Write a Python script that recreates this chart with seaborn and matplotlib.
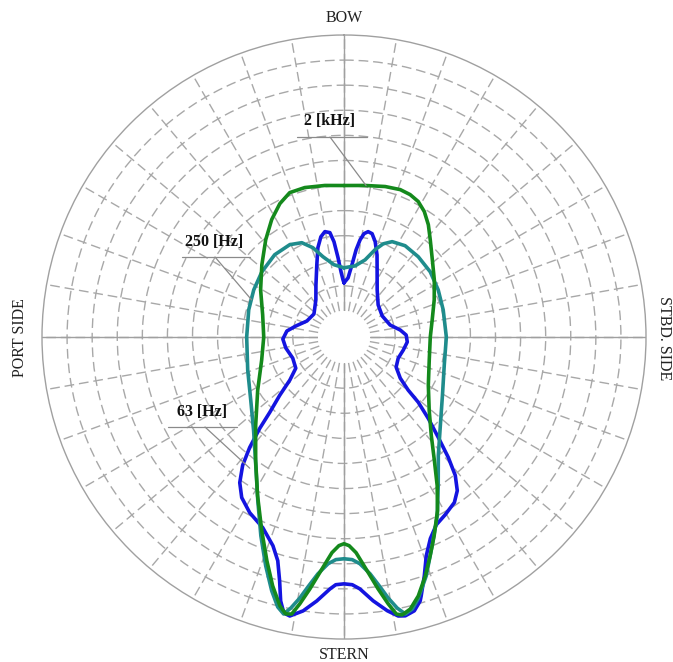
import numpy as np
import pandas as pd
import matplotlib
matplotlib.use("Agg")
import matplotlib.pyplot as plt
from matplotlib.lines import Line2D
import seaborn as sns

# Directivity of the radiated noise, one closed curve per frequency band.
# Angles in degrees, clockwise from the bow; radius on the level scale (0..110).
band_names = ["2 [kHz]", "250 [Hz]", "63 [Hz]"]

angle_2k = [0, 7.9, 15.3, 20.9, 24.9, 28.7, 32.6, 36.9, 41.6, 48.8, 57.7, 67.6, 79.1, 90,
            105.1, 119.7, 130.7, 138.4, 143.8, 147.9, 151.7, 155.6, 158.5, 161.2, 164.0,
            166.3, 168.2, 169.3, 170.6, 172.3, 174.6, 176.8, 178.6, 180,
            181.4, 183.2, 185.4, 187.7, 189.4, 190.7, 191.9, 193.4, 196.0, 199.0, 203.0,
            208.6, 215.6, 225.0, 238.4, 254.3, 270, 285.2, 299.5, 311.3, 321.2, 328.4,
            334.3, 339.4, 345.3, 352.8, 360]
level_2k = [50.0, 50.6, 51.8, 52.5, 52.2, 51.2, 49.0, 45.6, 41.4, 36.4, 32.2, 28.5, 25.4, 24.0,
            24.8, 28.3, 34.4, 42.0, 50.6, 59.5, 68.2, 76.6, 83.3, 90.2, 97.0,
            101.2, 102.8, 102.0, 97.4, 90.9, 82.4, 75.7, 72.8, 72.0,
            72.8, 75.7, 82.4, 90.9, 97.4, 102.0, 102.4, 99.8, 92.8, 84.0, 73.5,
            61.6, 50.1, 39.4, 30.0, 23.7, 21.6, 23.2, 27.8, 33.2, 39.4, 44.6,
            48.6, 51.1, 51.2, 50.5, 50.0]

angle_250 = [0, 8.8, 15.3, 19.6, 22.8, 26.8, 33.8, 42.8, 52.9, 63.4, 74.7, 90, 105.6,
             120.6, 132.5, 141.5, 147.6, 152.4, 157.1, 161.0, 164.2, 165.9, 167.5, 168.9,
             170.4, 171.8, 173.7, 176.0, 177.9, 180,
             182.1, 184.0, 186.3, 188.2, 189.6, 191.1, 192.3, 193.8, 195.9, 198.9, 202.7,
             207.8, 214.5, 224.1, 235.9, 251.0, 270, 285.9, 297.6, 308.4, 319.9, 329.6,
             335.9, 340.8, 345.3, 352.1, 360]
level_250 = [17.2, 18.3, 21.5, 26.6, 29.9, 32.2, 33.4, 33.2, 32.7, 31.6, 30.6, 30.4, 31.1,
             35.2, 41.7, 50.0, 59.7, 69.9, 79.9, 90.3, 98.1, 101.4, 102.7, 99.7,
             95.1, 90.2, 84.6, 80.2, 78.4, 78.0,
             78.4, 80.2, 84.6, 90.2, 95.1, 99.7, 102.6, 100.4, 94.8, 86.0, 75.5,
             63.3, 51.7, 41.4, 34.5, 30.2, 28.4, 29.1, 30.2, 31.4, 32.5, 32.3,
             30.8, 27.3, 22.7, 18.7, 17.2]

angle_63 = [0, 3.9, 6.3, 7.9, 9.4, 11.0, 12.9, 15.2, 18.1, 21.9, 26.2, 35.1, 46.7, 61.1,
            75.4, 82.9, 88.2, 94.5, 102.4, 111.3, 120.0, 126.2, 129.6, 131.3, 134.0,
            136.8, 139.1, 141.2, 143.6, 146.3, 150.3, 153.8, 156.8, 159.4, 161.4, 163.4,
            163.9, 165.6, 167.6, 169.0, 171.0, 173.7, 176.4, 178.1, 180,
            181.9, 183.2, 185.9, 188.5, 191.0, 192.3, 193.5, 194.8, 196.5, 198.8, 203.1,
            208.2, 212.5, 215.6, 218.3, 220.5, 222.7, 224.6, 227.8, 231.5, 237.1, 247.6,
            259.3, 268.1, 276.0, 282.9, 293.4, 307.5, 322.9, 331.7, 339.4, 343.7, 347.0,
            349.7, 352.3, 354.0, 355.7, 357.4, 359.0, 360]
level_63 = [11.2, 13.2, 18.6, 24.7, 28.9, 31.6, 32.7, 32.3, 29.6, 24.9, 19.5, 12.6, 8.3, 7.0,
            8.6, 12.2, 14.4, 14.9, 13.8, 12.8, 13.6, 17.4, 22.8, 29.0, 36.3,
            44.5, 53.1, 60.4, 65.7, 68.9, 71.1, 73.0, 77.0, 82.8, 90.0, 97.3,
            99.1, 102.3, 103.4, 102.9, 100.1, 95.4, 90.2, 88.4, 88.0,
            88.4, 90.2, 95.4, 100.0, 102.9, 102.2, 97.8, 90.1, 82.6, 77.5, 72.2,
            69.1, 65.5, 61.0, 54.8, 47.5, 39.1, 31.7, 24.2, 17.2, 12.5, 11.7,
            13.2, 14.0, 12.5, 9.3, 5.7, 4.7, 8.2, 13.2, 20.4, 26.7, 30.6,
            32.3, 31.6, 27.8, 21.3, 15.6, 12.4, 11.2]

band_colors = {"2 [kHz]": "#14891c", "250 [Hz]": "#1f8c8c", "63 [Hz]": "#1414e0"}

frames = []
for name, ang, lev in [(band_names[0], angle_2k, level_2k),
                       (band_names[1], angle_250, level_250),
                       (band_names[2], angle_63, level_63)]:
    frames.append(pd.DataFrame({"band": name, "theta": np.deg2rad(ang), "level": lev}))
df = pd.concat(frames, ignore_index=True)

sns.set_theme(style="white")
plt.rcParams["font.family"] = ["Liberation Serif", "DejaVu Serif"]

W, H = 673, 662
fig = plt.figure(figsize=(W / 100, H / 100), dpi=100)
fig.patch.set_facecolor("white")
ax = fig.add_axes([0.0624, 0.0347, 0.8975, 0.9124], projection="polar")
ax.set_facecolor("white")
ax.set_theta_zero_location("N")
ax.set_theta_direction(-1)
ax.set_ylim(0, 110)
ax.set_rorigin(-10.4)

ax.set_xticks(np.deg2rad(np.arange(0, 360, 10)))
ax.set_xticklabels([])
ax.set_yticks(np.arange(10, 110, 10))
ax.set_yticklabels([])
ax.tick_params(length=0)
ax.grid(True, color="#a8a8a8", lw=1.0, ls=(0, (7, 3.5)))
for a in (0, 90, 180, 270):
    ax.plot([np.deg2rad(a)] * 2, [0, 110], color="#a0a0a0", lw=1.0, zorder=1.5)
ax.spines["polar"].set_color("#a0a0a0")
ax.spines["polar"].set_linewidth(1.0)
# the hole in the middle has no outline
ax.spines["inner"].set_linewidth(0)
ax.spines["inner"].set_edgecolor("none")

sns.lineplot(data=df, x="theta", y="level", hue="band", palette=band_colors,
             hue_order=band_names[::-1], sort=False, estimator=None, lw=2.6,
             legend=False, ax=ax)
for ln in ax.get_lines():
    ln.set_solid_joinstyle("round")
    ln.set_solid_capstyle("round")
ax.set_xlabel("")
ax.set_ylabel("")
ax.set_ylim(0, 110)


def fx(x):
    return x / W


def fy(y):
    return 1 - y / H


# compass labels
fig.text(fx(344), fy(18), "BOW", ha="center", va="center", fontsize=11.5, color="#222222")
fig.text(fx(344), fy(655), "STERN", ha="center", va="center", fontsize=11.5, color="#222222")
fig.text(fx(20), fy(338), "PORT SIDE", ha="center", va="center", rotation=90,
         fontsize=11.5, color="#222222")
fig.text(fx(664), fy(338), "STBD. SIDE", ha="center", va="center", rotation=-90,
         fontsize=11.5, color="#222222")

# band call-outs: text, underline, leader to the curve
callouts = [
    ("2 [kHz]", (330, 121), (297, 367, 137), (330, 137), (8.3, 50.6)),
    ("250 [Hz]", (214, 242), (182, 250, 257), (215, 257), (291.9, 29.3)),
    ("63 [Hz]", (202, 412), (168, 237, 427), (205, 427), (215.7, 54.0)),
]
for label, (tx, ty), (ux0, ux1, uy), (lx, ly), (ath, ar) in callouts:
    fig.text(fx(tx), fy(ty), label, ha="center", va="center", fontsize=11.5,
             fontweight="bold", color="#111111")
    fig.add_artist(Line2D([fx(ux0), fx(ux1)], [fy(uy), fy(uy)], color="#8a8a8a", lw=0.9))
    ax.annotate("", xy=(np.deg2rad(ath), ar), xycoords="data",
                xytext=(fx(lx), fy(ly)), textcoords="figure fraction",
                arrowprops=dict(arrowstyle="-", color="#8a8a8a", lw=0.9,
                                shrinkA=0, shrinkB=0))

fig.savefig("out.png", dpi=100, facecolor="white")
